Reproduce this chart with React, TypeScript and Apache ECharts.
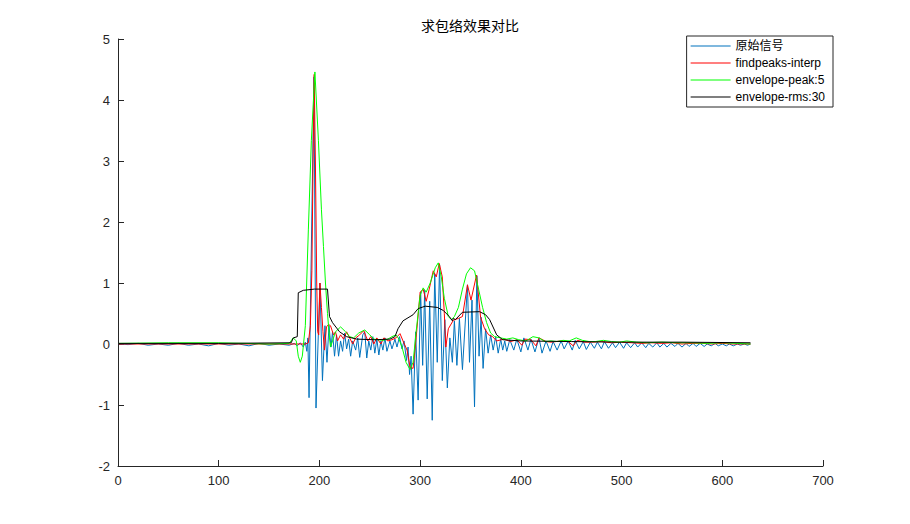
import { useEffect, useRef } from "react";
import * as echarts from "echarts";

const titleText = "求包络效果对比";
const seriesNames = ["原始信号", "findpeaks-interp", "envelope-peak:5", "envelope-rms:30"];
const xTickMin = 0;
const xTickMax = 700;
const xTickStep = 100;
const yTickMin = -2;
const yTickMax = 5;
const yTickStep = 1;

// 原始信号 (x, value) at its turning points
const rawSignal: number[][] = [
  [1, 0], [10, -0.01], [20, 0.01], [30, -0.02], [40, 0.0], [50, -0.02], [60, 0.01], [70, -0.02],
  [80, 0.0], [90, -0.03], [100, 0.01], [110, -0.02], [120, 0.0], [130, -0.03], [140, 0.01],
  [150, -0.02], [160, 0.0], [170, -0.02], [175, 0.01], [178, -0.03], [181, 0.02], [184, -0.05],
  [186, 0.03], [187.5, -0.12], [188.5, 0.1], [189.7, -0.88], [194.6, 4.38], [196.6, -1.05],
  [200.5, 1.0], [203, -0.6], [205.5, 0.3], [207.5, -0.3], [209.5, 0.3], [211.5, -0.05],
  [213, 0.2], [215, -0.2], [217, 0.15], [219, -0.2], [221, 0.05], [223, -0.12], [225, 0.18],
  [227, -0.08], [229, 0.08], [231, -0.2], [233, 0.05], [236, -0.1], [238, 0.1], [240, -0.22],
  [243, 0.15], [245, 0.2], [247, -0.23], [249, 0.05], [251, -0.1], [253, 0.12], [255, -0.15],
  [257, 0.08], [259, -0.18], [261, 0.05], [263, -0.1], [265, 0.1], [267, -0.12], [270, 0.05],
  [272, -0.08], [275, 0.08], [277, -0.05], [279.5, 0.12], [282, -0.08], [284, 0.05],
  [286.5, -0.27], [288, -0.05], [289.5, -0.5], [291, -0.2], [293, -1.15], [295.5, 0.2],
  [298, -0.92], [300.5, 0.85], [302.5, -0.35], [304.5, 0.88], [307, -0.9], [309.5, 0.7],
  [312, -1.25], [314.5, 1.15], [317, -0.3], [319.3, 1.3], [322, -0.6], [324.5, 0.4],
  [327, -0.72], [329.5, 0.1], [332, -0.3], [334, 0.38], [336.5, -0.35], [339, 0.42],
  [342, -0.42], [347, 0.97], [349, -0.3], [351.5, 0.72], [354, -1.03], [356.3, 1.12],
  [358.5, -0.2], [360.5, 0.44], [362.5, -0.4], [365, 0.25], [367.5, -0.15], [370, 0.15],
  [372.5, -0.1], [375, 0.12], [377.5, -0.15], [380, 0.08], [382, -0.1], [384, 0.05],
  [386, -0.12], [389, 0.07], [393, -0.1], [396, 0.08], [400, -0.13], [403, 0.1], [407, -0.1],
  [410, 0.08], [414, -0.13], [418, 0.1], [421, -0.15], [425, 0.05], [429, -0.12], [432, 0.04],
  [436, -0.1], [440, 0.05], [443, -0.08], [447, 0.05], [451, -0.1], [454, 0.06], [458, -0.08],
  [462, 0.04], [465, -0.09], [469, 0.03], [473, -0.07], [476, 0.03], [480, -0.08], [483, 0.04],
  [487, -0.07], [491, 0.02], [494, -0.06], [498, 0.03], [502, -0.07], [505, 0.02], [509, -0.06],
  [513, 0.02], [516, -0.05], [520, 0.02], [524, -0.06], [527, 0.01], [531, -0.05], [535, 0.02],
  [538, -0.05], [542, 0.01], [545, -0.05], [549, 0.01], [553, -0.04], [556, 0.01], [560, -0.05],
  [564, 0.01], [567, -0.04], [571, 0.01], [574, -0.04], [578, 0.01], [582, -0.04], [585, 0.0],
  [589, -0.03], [593, 0.01], [596, -0.03], [600, 0.0], [604, -0.03], [607, 0.0], [611, -0.03],
  [615, 0.0], [618, -0.02], [622, 0.0], [625, -0.02], [628, 0.0],
];

// findpeaks-interp
const peakInterp: number[][] = [
  [1, 0], [100, 0.0], [186, 0.0], [189, 0.02], [191, 0.3], [192.5, 1.2], [193.7, 3.0],
  [194.8, 4.42], [196, 3.0], [197.3, 1.0], [198.3, 0.2], [199.3, 0.15], [200.5, 1.0],
  [202, 0.6], [203.5, 0.2], [205, -0.1], [207, 0.28], [209, 0.32], [211, 0.3], [214, 0.15],
  [216, 0.2], [218, 0.05], [221, 0.15], [224, 0.08], [227, 0.2], [230, 0.1], [233, 0.0],
  [236, 0.1], [240, 0.15], [244, 0.22], [248, 0.05], [251, 0.12], [254, 0.0], [257, 0.1],
  [261, 0.0], [264, 0.1], [268, 0.05], [272, 0.07], [276, 0.1], [280, 0.17], [283, 0.05],
  [287, -0.1], [290, -0.38], [293, -0.4], [296, 0.1], [300, 0.85], [303, 0.9], [306, 0.7],
  [309, 0.9], [313, 1.2], [316, 1.1], [319, 1.32], [322, 1.1], [324, 0.5], [325.5, -0.05],
  [328, 0.25], [333, 0.39], [338, 0.42], [342, 0.45], [347, 0.97], [350.5, 0.72], [356, 1.13],
  [360, 0.44], [364, 0.25], [368, 0.15], [372, 0.12], [376, 0.05], [383, 0.08], [390, 0.04],
  [396, 0.07], [401, -0.02], [404, 0.08], [410, 0.07], [415, -0.03], [418, 0.1], [425, 0.04],
  [430, 0.03], [440, 0.05], [447, 0.04], [452, -0.03], [456, 0.06], [463, 0.03], [470, 0.03],
  [480, 0.04], [490, 0.02], [500, 0.03], [510, 0.02], [520, 0.01], [530, 0.02], [540, 0.01],
  [550, 0.02], [560, 0.0], [570, 0.01], [580, 0.01], [590, 0.0], [600, 0.01], [610, 0.0],
  [620, 0.0], [628, 0.0],
];

// envelope-peak:5
const peakEnvelope: number[][] = [
  [1, 0.01], [50, 0.02], [100, 0.02], [150, 0.0], [170, 0.01], [174, 0.1], [177, 0.05],
  [179, -0.2], [181, -0.3], [183, -0.2], [186, 0.3], [189, 1.87], [192, 3.34], [195.5, 4.46],
  [199, 3.34], [202, 2.2], [204, 1.6], [206, 1.0], [208, 0.5], [210, 0.1], [211, -0.05],
  [213, 0.05], [216, 0.2], [221, 0.28], [226, 0.2], [230, 0.12], [234, 0.1], [239, 0.18],
  [245, 0.23], [250, 0.15], [254, 0.08], [258, 0.07], [263, 0.06], [268, 0.08], [272, 0.12],
  [276, 0.15], [279, 0.08], [282, -0.05], [286, -0.3], [290, -0.42], [293, -0.3], [296, 0.2],
  [300, 0.8], [303, 0.92], [306, 0.85], [310, 1.0], [315, 1.25], [318, 1.33], [321, 1.1],
  [324, 0.75], [328, 0.45], [331, 0.4], [334, 0.45], [338, 0.6], [342, 0.9], [346, 1.15],
  [350, 1.25], [354, 1.2], [358, 0.9], [362, 0.6], [366, 0.35], [370, 0.18], [374, 0.12],
  [380, 0.1], [386, 0.08], [392, 0.1], [398, 0.07], [405, 0.05], [412, 0.12], [418, 0.1],
  [424, 0.04], [430, 0.05], [436, 0.04], [442, 0.06], [448, 0.05], [455, 0.1], [461, 0.06],
  [468, 0.04], [474, 0.04], [482, 0.06], [490, 0.04], [498, 0.03], [505, 0.05], [515, 0.03],
  [525, 0.02], [540, 0.03], [555, 0.02], [570, 0.02], [585, 0.01], [600, 0.02], [615, 0.01],
  [628, 0.0],
];

// envelope-rms:30
const rmsEnvelope: number[][] = [
  [1, 0.01], [100, 0.01], [172, 0.02], [174, 0.1], [178, 0.12], [179, 0.84], [184, 0.88],
  [195, 0.9], [208, 0.9], [210, 0.45], [213, 0.35], [220, 0.2], [227, 0.12], [237, 0.08],
  [255, 0.07], [270, 0.08], [275, 0.12], [278, 0.25], [283, 0.38], [293, 0.48], [298, 0.58],
  [305, 0.62], [317, 0.6], [323, 0.55], [329, 0.45], [332, 0.38], [333, 0.42], [335, 0.4],
  [342, 0.52], [359, 0.53], [365, 0.48], [369, 0.4], [376, 0.15], [382, 0.07], [400, 0.05],
  [450, 0.04], [500, 0.03], [560, 0.03], [628, 0.02],
];

const seriesData = [rawSignal, peakInterp, peakEnvelope, rmsEnvelope];
const seriesColors = ["#0072BD", "#FF0000", "#00FF00", "#000000"];

export default function App() {
  const ref = useRef<HTMLDivElement>(null);
  useEffect(() => {
    document.body.style.margin = "0";
    if (!ref.current) return;
    const chart = echarts.init(ref.current, null, { renderer: "svg" });
    const axisColor = "#262626";
    const font = "'Liberation Sans', Arial, 'Noto Sans CJK SC', sans-serif";
    chart.setOption({
      animation: false,
      backgroundColor: "#ffffff",
      title: {
        text: titleText,
        left: 470,
        top: 18,
        padding: 0,
        textAlign: "center",
        textStyle: {
          fontSize: 14,
          fontWeight: "normal",
          color: "#000",
          fontFamily: "'Noto Sans CJK SC', sans-serif",
        },
      },
      legend: {
        orient: "vertical",
        right: 77,
        top: 36,
        backgroundColor: "#fff",
        borderColor: axisColor,
        borderWidth: 1,
        padding: [4, 8, 4, 4],
        itemGap: 5,
        itemWidth: 40,
        itemHeight: 1,
        icon: "rect",
        data: seriesNames,
        textStyle: { fontSize: 12, color: "#000", fontFamily: font, lineHeight: 12 },
      },
      grid: { left: 118, top: 39, right: 87, bottom: 58, containLabel: false },
      xAxis: {
        type: "value",
        min: xTickMin,
        max: xTickMax,
        interval: xTickStep,
        axisLine: { show: true, onZero: false, lineStyle: { color: axisColor, width: 1 } },
        axisTick: { show: true, inside: true, length: 6, lineStyle: { color: axisColor } },
        axisLabel: { color: axisColor, fontSize: 13, fontFamily: font, margin: 8 },
        splitLine: { show: false },
      },
      yAxis: {
        type: "value",
        min: yTickMin,
        max: yTickMax,
        interval: yTickStep,
        axisLine: { show: true, onZero: false, lineStyle: { color: axisColor, width: 1 } },
        axisTick: { show: true, inside: true, length: 6, lineStyle: { color: axisColor } },
        axisLabel: { color: axisColor, fontSize: 13, fontFamily: font, margin: 8 },
        splitLine: { show: false },
      },
      series: seriesNames.map((name, i) => ({
        name,
        type: "line",
        data: seriesData[i],
        symbol: "none",
        showSymbol: false,
        smooth: false,
        lineStyle: { color: seriesColors[i], width: 1 },
        itemStyle: { color: seriesColors[i] },
        z: 2 + i,
      })),
    });
    return () => chart.dispose();
  }, []);
  return <div ref={ref} style={{ width: 910, height: 524 }} />;
}
